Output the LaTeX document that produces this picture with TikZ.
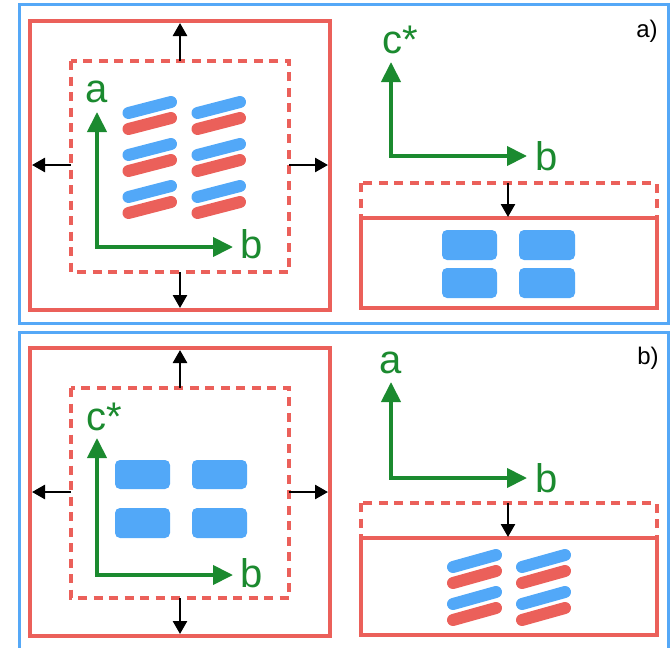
\documentclass[tikz,border=0pt]{standalone}
\usepackage{fontspec}
\setmainfont{Liberation Sans}
\usetikzlibrary{arrows.meta}
\definecolor{frameblue}{HTML}{55A8F7}
\definecolor{cellred}{HTML}{EB605A}
\definecolor{molblue}{HTML}{52A8F8}
\definecolor{axisgreen}{HTML}{1B8A2F}
\tikzset{
  panel/.style={draw=frameblue, line width=3pt},
  cell/.style={draw=cellred, line width=4pt},
  oldcell/.style={draw=cellred, line width=3.5pt, dash pattern=on 9pt off 6.5pt},
  growarrow/.style={-{Triangle[length=13pt,width=14pt]}, line width=2.6pt, draw=black},
  axes/.style={draw=axisgreen, line width=4pt, miter limit=10,
    {Triangle[length=20pt,width=19pt]}-{Triangle[length=20pt,width=19pt]}},
  axislabel/.style={text=axisgreen, font=\fontsize{40}{40}\selectfont, inner sep=0pt, anchor=base},
  tag/.style={font=\fontsize{24}{24}\selectfont, inner sep=0pt, anchor=base},
  block/.style={fill=molblue, rounded corners=5pt},
  bluebar/.style={draw=molblue, line width=12pt, line cap=round},
  redbar/.style={draw=cellred, line width=12pt, line cap=round},
}
\begin{document}
\begin{tikzpicture}[x=1pt,y=-1pt]
\useasboundingbox (0,0) rectangle (670,648);

% ---------- panel frames ----------
\draw[panel] (19,4) rectangle (668,323);
\draw[panel] (19,332) rectangle (668,665);

% ================= panel a) =================
% left: lateral growth of the film
\draw[cell] (30,21) rectangle (330,310);
\draw[oldcell] (71,61) rectangle (289,272);
\coordinate (aTin) at (180,61);  \coordinate (aTout) at (180,23);
\coordinate (aBin) at (180,272); \coordinate (aBout) at (180,308);
\coordinate (aLin) at (71,165);  \coordinate (aLout) at (32,165);
\coordinate (aRin) at (289,165); \coordinate (aRout) at (328,165);
\draw[growarrow] (aTin) -- (aTout);
\draw[growarrow] (aBin) -- (aBout);
\draw[growarrow] (aLin) -- (aLout);
\draw[growarrow] (aRin) -- (aRout);

% tilted chains seen along c*
\foreach \k in {0,1,2}{
  \foreach \dx in {0,69}{
    \draw[bluebar] ({128.5+\dx},{113+42*\k}) -- ({171+\dx},{102+42*\k});
    \draw[redbar]  ({128.5+\dx},{129+42*\k}) -- ({171+\dx},{118+42*\k});
  }
}

\coordinate (aLo) at (97,247);
\coordinate (aLa) at (97,112);
\coordinate (aLb) at (233,247);
\draw[axes] (aLa) -- (aLo) -- (aLb);
\node[axislabel] (aLlabA) at (97,102) {a};
\node[axislabel] (aLlabB) at (252,258) {b};

% right: cross-section, vertical growth
\coordinate (aRo) at (391,156);
\coordinate (aRc) at (391,62);
\coordinate (aRb) at (527,156);
\draw[axes] (aRc) -- (aRo) -- (aRb);
\node[axislabel] (aRlabC) at (400,53) {c*};
\node[axislabel] (aRlabB) at (547,170) {b};
\node[tag] (tagA) at (647,37) {a)};

\draw[oldcell] (361,183) rectangle (657,218);
\draw[cell] (361,218) rectangle (657,308);
\coordinate (aVin) at (508,183); \coordinate (aVout) at (508,217);
\draw[growarrow] (aVin) -- (aVout);

\fill[block] (442,230) rectangle (497,260);
\fill[block] (519,230) rectangle (575,260);
\fill[block] (442,268) rectangle (497,298);
\fill[block] (519,268) rectangle (575,298);

% ================= panel b) =================
\draw[cell] (30,348) rectangle (330,636);
\draw[oldcell] (71,388) rectangle (289,598);
\coordinate (bTin) at (180,388); \coordinate (bTout) at (180,350);
\coordinate (bBin) at (180,598); \coordinate (bBout) at (180,634);
\coordinate (bLin) at (71,492);  \coordinate (bLout) at (32,492);
\coordinate (bRin) at (289,492); \coordinate (bRout) at (328,492);
\draw[growarrow] (bTin) -- (bTout);
\draw[growarrow] (bBin) -- (bBout);
\draw[growarrow] (bLin) -- (bLout);
\draw[growarrow] (bRin) -- (bRout);

\fill[block] (115,460) rectangle (170,489);
\fill[block] (192,460) rectangle (247,489);
\fill[block] (115,508) rectangle (170,538);
\fill[block] (192,508) rectangle (247,538);

\coordinate (bLo) at (97,575);
\coordinate (bLc) at (97,438);
\coordinate (bLb) at (233,575);
\draw[axes] (bLc) -- (bLo) -- (bLb);
\node[axislabel, anchor=base west] (bLlabC) at (86,430) {c*};
\node[axislabel] (bLlabB) at (252,587) {b};

% right: cross-section
\coordinate (bRo) at (391,478);
\coordinate (bRa) at (391,382);
\coordinate (bRb) at (527,478);
\draw[axes] (bRa) -- (bRo) -- (bRb);
\node[axislabel] (bRlabA) at (391,373) {a};
\node[axislabel] (bRlabB) at (547,492) {b};
\node[tag] (tagB) at (648,364) {b)};

\draw[oldcell] (361,503) rectangle (657,538);
\draw[cell] (361,538) rectangle (657,635);
\coordinate (bVin) at (508,503); \coordinate (bVout) at (508,537);
\draw[growarrow] (bVin) -- (bVout);

\foreach \k in {0,1}{
  \foreach \dx in {0,69}{
    \draw[bluebar] ({453+\dx},{567+37*\k}) -- ({496+\dx},{555+37*\k});
    \draw[redbar]  ({453+\dx},{583+37*\k}) -- ({496+\dx},{571+37*\k});
  }
}
\end{tikzpicture}
\end{document}
